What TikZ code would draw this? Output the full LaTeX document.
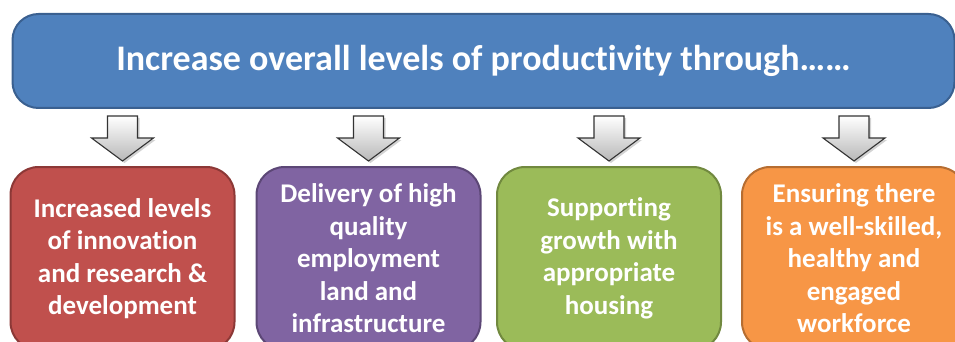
\documentclass[tikz,border=0pt]{standalone}
\usepackage{fontspec}
\setmainfont[Ligatures=NoCommon]{Carlito}
\usetikzlibrary{shadows}

\definecolor{headfill}{HTML}{4F81BD}
\definecolor{headline}{HTML}{3A6090}
\definecolor{redfill}{HTML}{C0504D}
\definecolor{redline}{HTML}{8C3836}
\definecolor{purplefill}{HTML}{8064A2}
\definecolor{purpleline}{HTML}{5C4776}
\definecolor{greenfill}{HTML}{9BBB59}
\definecolor{greenline}{HTML}{71893F}
\definecolor{orangefill}{HTML}{F79646}
\definecolor{orangeline}{HTML}{B66D31}

\begin{document}
\begin{tikzpicture}[x=1pt,y=-1pt,
  headbox/.style={draw=headline, fill=headfill, line width=2pt,
    rounded corners=26pt, minimum width=942pt, minimum height=94pt,
    inner sep=0pt, text=white,
    font=\fontsize{36}{43}\selectfont\bfseries},
  panel/.style={line width=2pt, rounded corners=28pt,
    minimum width=224pt, minimum height=183pt, inner sep=0pt,
    text=white, align=center,
    font=\fontsize{27}{32.5}\selectfont\bfseries},
  arrowbody/.style={draw=black!80, line width=1.1pt, line join=miter,
    top color=white, bottom color=black!28,
    drop shadow={opacity=0.35, shadow xshift=2pt, shadow yshift=-2pt}},
  downarrow/.pic={
    \path[arrowbody] (-15,0) -- (15,0) -- (15,22) -- (31,22) -- (0,45)
      -- (-31,22) -- (-15,22) -- cycle;
  }]
\useasboundingbox (0,0) rectangle (955,342);
\clip (0,0) rectangle (955,342);

% heading bar
\node[headbox] (top) at (483.5,61)
  {Increase overall levels of productivity through……};

% four themes
\node[panel, draw=redline, fill=redfill] (b1) at (122.5,258.5)
  {Increased levels\\of innovation\\and research \&\\development};
\node[panel, draw=purpleline, fill=purplefill] (b2) at (368.5,258.5)
  {Delivery of high\\quality\\employment\\land and\\infrastructure};
\node[panel, draw=greenline, fill=greenfill] (b3) at (609,258.5)
  {Supporting\\growth with\\appropriate\\housing};
\node[panel, draw=orangeline, fill=orangefill] (b4) at (854,258.5)
  {Ensuring there\\is a well-skilled,\\healthy and\\engaged\\workforce};

% block arrows from the heading to each theme
\foreach \b in {b1,b2,b3,b4}
  \pic at ([yshift=-7pt]\b.north |- top.south) {downarrow};
\end{tikzpicture}
\end{document}
